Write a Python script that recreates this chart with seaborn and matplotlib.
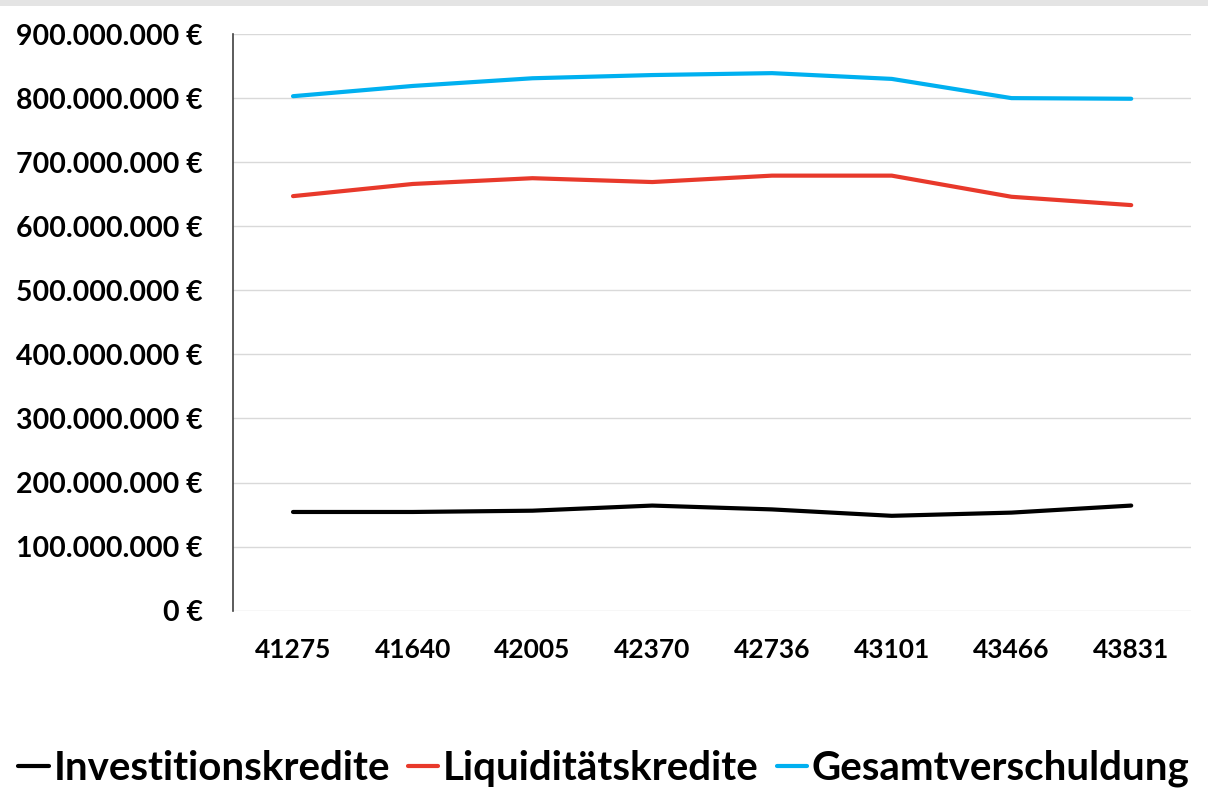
import matplotlib
matplotlib.use("Agg")
import matplotlib.pyplot as plt
from matplotlib.ticker import FuncFormatter, MultipleLocator
from matplotlib.patches import Rectangle
import seaborn as sns
import pandas as pd

# Stichtage (Excel-Seriennummern) und Schuldenstände in Euro
stichtage = ["41275", "41640", "42005", "42370", "42736", "43101", "43466", "43831"]
investitionskredite = [154e6, 154e6, 156e6, 164e6, 158e6, 148e6, 153e6, 164e6]
liquiditaetskredite = [647e6, 666e6, 675e6, 669e6, 679e6, 679e6, 646e6, 633e6]
gesamtverschuldung = [803e6, 819e6, 831e6, 836e6, 839e6, 830e6, 800e6, 799e6]

serien = ["Investitionskredite", "Liquiditätskredite", "Gesamtverschuldung"]
farben = ["#000000", "#e8392b", "#00b0f0"]

df = pd.DataFrame({
    "Stichtag": stichtage * 3,
    "Betrag": investitionskredite + liquiditaetskredite + gesamtverschuldung,
    "Reihe": [serien[0]] * 8 + [serien[1]] * 8 + [serien[2]] * 8,
})

sns.set_theme(style="white")
plt.rcParams["font.family"] = ["Lato", "DejaVu Sans"]
plt.rcParams["font.weight"] = "bold"
plt.rcParams["text.color"] = "#000000"

fig = plt.figure(figsize=(12.08, 7.92), dpi=100)
fig.patch.set_facecolor("white")
# schmaler grauer Rand oben
fig.patches.append(Rectangle((0, 0.993), 1, 0.007, transform=fig.transFigure,
                             facecolor="#e4e4e4", edgecolor="none", zorder=0))
ax = fig.add_axes([0.193, 0.229, 0.793, 0.728])

sns.lineplot(data=df, x="Stichtag", y="Betrag", hue="Reihe", hue_order=serien,
             palette=farben, linewidth=3, sort=False, ax=ax, legend=True)

ax.set_xlim(-0.5, len(stichtage) - 0.5)
ax.set_ylim(0, 900e6)
ax.yaxis.set_major_locator(MultipleLocator(100e6))
ax.yaxis.set_major_formatter(
    FuncFormatter(lambda v, _: f"{v:,.0f}".replace(",", ".") + " €"))
ax.grid(axis="y", color="#d9d9d9", linewidth=1)
ax.set_axisbelow(True)
ax.set_xlabel("")
ax.set_ylabel("")

for s in ["top", "right", "bottom"]:
    ax.spines[s].set_visible(False)
ax.spines["left"].set_color("#404040")
ax.spines["left"].set_linewidth(1.2)

ax.tick_params(axis="y", labelsize=20.5, pad=22, length=0)
ax.tick_params(axis="x", labelsize=19, pad=20, length=0)
for lbl in ax.get_xticklabels() + ax.get_yticklabels():
    lbl.set_fontweight("bold")
    lbl.set_color("#000000")

handles, labels = ax.get_legend_handles_labels()
ax.legend_.remove()
leg = fig.legend(handles, labels, loc="lower center", bbox_to_anchor=(0.5, -0.04),
                 ncol=3, frameon=False, handlelength=0.75,
                 handletextpad=0.12, columnspacing=0.45,
                 prop={"weight": "bold", "size": 29})
for t in leg.get_texts():
    t.set_color("#000000")
for h in leg.get_lines():
    h.set_linewidth(3)

fig.savefig("out.png", dpi=100)
